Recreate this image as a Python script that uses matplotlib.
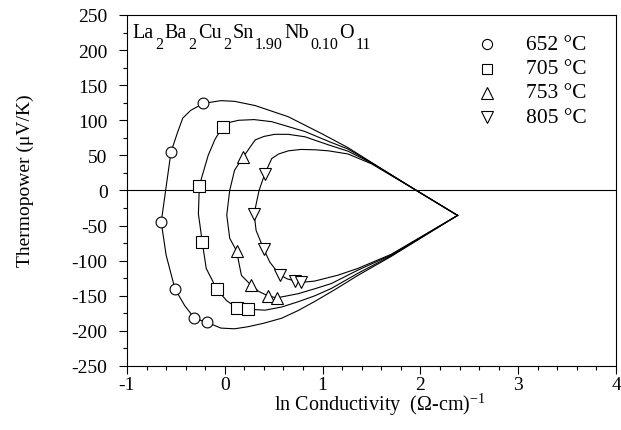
import matplotlib
matplotlib.use("Agg")
import matplotlib.pyplot as plt
from matplotlib.ticker import MultipleLocator

# ---------------------------------------------------------------- data
TEMPS = ["652 °C", "705 °C", "753 °C", "805 °C"]
MARKERS = ["o", "s", "^", "v"]

# measured points (ln sigma, S)
X_652 = [-0.22, -0.55, -0.65, -0.51, -0.31, -0.18]
Y_652 = [124, 55, -45, -140, -182, -188]
X_705 = [-0.02, -0.26, -0.23, -0.08, 0.12, 0.24]
Y_705 = [91, 7, -74, -141, -167, -169]
X_753 = [0.19, 0.12, 0.27, 0.44, 0.53]
Y_753 = [48, -86, -135, -150, -153]
X_805 = [0.41, 0.30, 0.40, 0.56, 0.72, 0.78]
Y_805 = [24, -33, -84, -120, -129, -131]

# fitted loops (apex -> upper branch -> lower branch -> apex)
FIT_X_652 = [2.38, 1.96, 1.50, 1.26, 0.99, 0.65, 0.31, 0.10, -0.04, -0.22, -0.35,
             -0.43, -0.48, -0.55, -0.65, -0.60, -0.51, -0.41, -0.31, -0.18, -0.04,
             0.10, 0.24, 0.40, 0.58, 0.75, 0.92, 1.14, 1.36, 1.70, 2.38]
FIT_Y_652 = [-35.5, 0, 40, 61, 81, 105, 121, 127, 128, 124, 114,
             103, 84, 55, -45, -92, -140, -164, -182, -188, -196,
             -197, -194, -189, -182, -171, -158, -140, -121, -94, -35.5]
FIT_X_705 = [2.38, 1.96, 1.50, 1.26, 1.06, 0.82, 0.48, 0.30, 0.14, 0.05, -0.02,
             -0.10, -0.17, -0.26, -0.27, -0.23, -0.19, -0.08, 0.02, 0.12, 0.24,
             0.41, 0.58, 0.75, 0.92, 1.09, 1.36, 1.70, 2.38]
FIT_Y_705 = [-35.5, 0, 39.5, 59, 70, 84, 98, 101, 100, 97, 91,
             73, 50, 7, -33, -74, -111, -141, -157, -167, -169,
             -170.5, -166, -158.5, -150, -139.5, -118, -93, -35.5]
FIT_X_753 = [2.38, 1.96, 1.50, 1.26, 1.06, 0.82, 0.65, 0.51, 0.40, 0.31, 0.19,
             0.10, 0.05, 0.02, 0.05, 0.12, 0.17, 0.27, 0.35, 0.44, 0.53,
             0.75, 0.92, 1.09, 1.36, 1.70, 2.38]
FIT_Y_753 = [-35.5, 0, 39, 56, 65, 76.5, 80, 80, 77, 72, 48,
             29, 0, -35, -68, -86, -121, -135, -144, -150, -153,
             -147, -140, -132.5, -113.5, -92, -35.5]
FIT_X_805 = [2.38, 1.96, 1.50, 1.26, 1.06, 0.92, 0.78, 0.65, 0.55, 0.48, 0.41,
             0.35, 0.30, 0.32, 0.40, 0.46, 0.56, 0.64, 0.72, 0.78, 0.92,
             1.16, 1.36, 1.70, 2.38]
FIT_Y_805 = [-35.5, 0, 38, 52, 56.5, 58, 58.5, 56.5, 52, 45.5, 24,
             0, -33, -57, -84, -102, -120, -126, -129, -131, -129,
             -120.5, -111, -91, -35.5]

POINTS = [(X_652, Y_652), (X_705, Y_705), (X_753, Y_753), (X_805, Y_805)]
FITS = [(FIT_X_652, FIT_Y_652), (FIT_X_705, FIT_Y_705),
        (FIT_X_753, FIT_Y_753), (FIT_X_805, FIT_Y_805)]
MARKER_SIZES = [7.8, 8.2, 8.8, 8.8]

# formula pieces: (text, is_subscript)
FORMULA = [("La", False), ("2", True), ("Ba", False), ("2", True),
           ("Cu", False), ("2", True), ("Sn", False), ("1.90", True),
           ("Nb", False), ("0.10", True), ("O", False), ("11", True)]

# ---------------------------------------------------------------- style
plt.rcParams.update({
    "font.family": "Liberation Serif",
    "mathtext.fontset": "custom",
    "mathtext.rm": "Liberation Serif",
    "mathtext.it": "Liberation Serif:italic",
    "axes.unicode_minus": False,
    "axes.linewidth": 0.8,
})

fig = plt.figure(figsize=(6.21, 4.31), dpi=100)
ax = fig.add_axes([0.2045, 0.1485, 0.7875, 0.8144])

ax.axhline(0, color="black", lw=0.8, zorder=1)

for (fx, fy), (px, py), m, ms in zip(FITS, POINTS, MARKERS, MARKER_SIZES):
    ax.plot(fx, fy, color="black", lw=0.8, zorder=2)
    ax.plot(px, py, ls="none", marker=m, ms=ms, mfc="white", mec="black",
            mew=0.8, zorder=3)

ax.set_xlim(-1, 4)
ax.set_ylim(-250, 250)
ax.xaxis.set_major_locator(MultipleLocator(1))
ax.xaxis.set_minor_locator(MultipleLocator(0.2))
ax.yaxis.set_major_locator(MultipleLocator(50))
ax.yaxis.set_minor_locator(MultipleLocator(25))
ax.tick_params(which="major", direction="out", length=6, width=0.8, labelsize=14)
ax.tick_params(which="minor", direction="out", length=3, width=0.8)
ax.tick_params(axis="x", pad=1)
ax.tick_params(axis="y", pad=8)

ax.set_xlabel(r"ln Conductivity  ($\Omega$-cm)$^{-1}$", fontsize=14.5)
ax.xaxis.set_label_coords(0.518, -0.072)
ax.set_ylabel("Thermopower (\u03bcV/K)", fontsize=14)
ax.yaxis.set_label_coords(-0.19, 0.53)

# compound formula, pieces chained left to right
prev = ax.text(0.012, 0.937, FORMULA[0][0], transform=ax.transAxes,
               fontsize=14.5, ha="left", va="baseline")
for txt, sub in FORMULA[1:]:
    prev = ax.annotate(txt, xy=(1, 0.937), xycoords=(prev, ax.transAxes),
                       xytext=(1.0, -8 if sub else 0), textcoords="offset points",
                       fontsize=11.5 if sub else 14.5, ha="left", va="baseline")

# legend, drawn by hand
for i, (lab, m, ms) in enumerate(zip(TEMPS, MARKERS, MARKER_SIZES)):
    yy = 0.917 - i * 0.0695
    ax.plot(0.737, yy, marker=m, ms=ms - 0.5, mfc="white", mec="black", mew=0.8,
            transform=ax.transAxes, clip_on=False)
    ax.text(0.815, yy, lab, transform=ax.transAxes, fontsize=15.5,
            ha="left", va="center")

fig.savefig("out.png", dpi=100)
